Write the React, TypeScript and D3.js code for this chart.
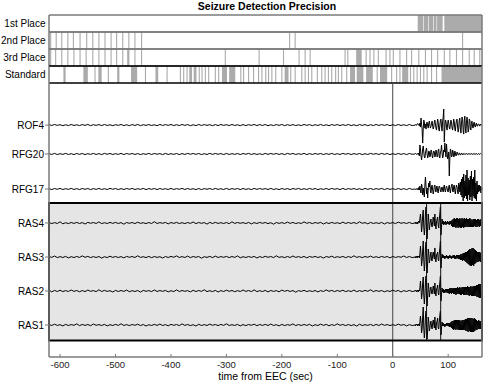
import React from 'react';
import * as d3 from 'd3';

// ---------- data ----------
const title = 'Seizure Detection Precision';
const xLabel = 'time from EEC (sec)';
const xTicks = [-600, -500, -400, -300, -200, -100, 0, 100];
const rankRows = ['1st Place', '2nd Place', '3rd Place', 'Standard'];
const channels = ['ROF4', 'RFG20', 'RFG17', 'RAS4', 'RAS3', 'RAS2', 'RAS1'];
const onsetMarkers = [61, 86.5];

// detection intervals [start, end] in seconds
const firstPlace = [[45, 55], [56, 64], [65, 73], [74, 79], [80, 90], [93, 161]];
const secondPlace = [[-618, -616], [-608, -606], [-598, -596], [-587, -585], [-577, -575], [-565, -563], [-553, -551], [-542, -540], [-531, -529], [-520, -518], [-509, -507], [-499, -497], [-488, -486], [-477, -475], [-466, -464], [-454, -452], [-187, -185], [-177, -175], [125, 127]];
const thirdPlace = [[-618, -616], [-609, -607], [-598, -596], [-587, -585], [-576, -574], [-565, -563], [-554, -552], [-542, -540], [-531, -529], [-520, -518], [-509, -507], [-499, -497], [-488, -486], [-479, -475], [-466, -464], [-454, -452], [-303, -301], [-242, -240], [-198, -196], [-170, -168], [-159, -157], [-150, -148], [-87, -85], [-82, -80], [-66, -56], [-49, -47], [-42, -40], [-35, -33], [-27, -25], [-13, -11], [-6, -4], [0, 2], [12, 14], [24, 26], [33, 35], [46, 48], [58, 60], [69, 71], [80, 82], [92, 94], [102, 104], [114, 116], [125, 127], [137, 139], [146, 148], [156, 158]];
const standard = [[-594, -590], [-558, -550], [-538, -536], [-531, -525], [-514, -512], [-497, -493], [-472, -461], [-447, -445], [-428, -423], [-408, -406], [-384, -382], [-378, -376], [-372, -370], [-367, -362], [-359, -354], [-350, -348], [-345, -343], [-339, -337], [-333, -331], [-321, -319], [-315, -313], [-308, -299], [-295, -284], [-275, -273], [-270, -268], [-261, -259], [-252, -250], [-243, -241], [-237, -235], [-230, -228], [-225, -223], [-219, -217], [-212, -210], [-201, -199], [-195, -188], [-185, -183], [-177, -175], [-165, -163], [-159, -157], [-153, -151], [-147, -145], [-137, -135], [-129, -127], [-123, -121], [-117, -115], [-111, -109], [-104, -102], [-99, -97], [-93, -91], [-84, -82], [-77, -68], [-65, -53], [-48, -36], [-29, -27], [-23, -10], [-3, -1], [6, 8], [12, 14], [17, 28], [31, 33], [37, 39], [43, 45], [49, 51], [55, 57], [61, 63], [69, 71], [78, 80], [88, 161]];

// EEG amplitudes (px-equivalent units). Pre-ictal part sampled every 5 s from -620 s,
// ictal part sampled every 1 s from 40 s.
const rof4Base = [
  0.5,-0.4,0.6,-0.3,0.4,-0.6,0.3,-0.5,0.6,-0.4,0.3,-0.5,
  0.5,-0.3,0.6,-0.6,0.4,-0.3,0.5,-0.5,0.6,-0.4,0.3,-0.6,
  0.4,-0.3,0.6,-0.5,0.3,-0.6,0.5,-0.4,0.6,-0.6,0.4,-0.3,
  0.5,-0.4,0.3,-0.6,0.6,-0.4,0.5,-0.3,0.6,-0.5,0.4,-0.5,
  0.6,-0.3,0.5,-0.6,0.3,-0.5,0.6,-0.4,0.5,-0.3,0.4,-0.6,
  0.5,-0.5,0.6,-0.3,0.4,-0.5,0.6,-0.4,0.3,-0.6,0.5,-0.5,
  0.4,-0.3,0.6,-0.5,0.5,-0.4,0.6,-0.6,0.3,-0.5,0.5,-0.3,
  0.6,-0.6,0.4,-0.4,0.5,-0.5,0.3,-0.5,0.6,-0.3,0.5,-0.6,
  0.4,-0.4,0.6,-0.5,0.3,-0.6,0.5,-0.3,0.5,-0.5,0.4,-0.4,
  0.6,-0.5,0.3,-0.6,0.5,-0.3,0.5,-0.6,0.4,-0.5,0.6,-0.4,
  0.5,-0.3,0.5,-0.6,0.4,-0.5,0.6,-0.4,0.3,-0.5,0.6,-0.5];
const rfg20Base = [
  0.4,-0.5,0.6,-0.6,0.3,-0.4,0.6,-0.5,0.3,-0.6,0.5,-0.4,
  0.5,-0.6,0.3,-0.4,0.6,-0.5,0.4,-0.6,0.6,-0.3,0.5,-0.5,
  0.3,-0.4,0.6,-0.6,0.5,-0.3,0.5,-0.5,0.4,-0.6,0.3,-0.4,
  0.6,-0.5,0.5,-0.3,0.4,-0.6,0.6,-0.5,0.3,-0.4,0.5,-0.6,
  0.4,-0.5,0.6,-0.3,0.5,-0.4,0.5,-0.6,0.3,-0.5,0.6,-0.4,
  0.5,-0.3,0.4,-0.6,0.6,-0.5,0.3,-0.4,0.5,-0.6,0.5,-0.3,
  0.6,-0.5,0.4,-0.5,0.3,-0.6,0.6,-0.4,0.5,-0.3,0.5,-0.5,
  0.4,-0.6,0.6,-0.3,0.5,-0.5,0.3,-0.4,0.6,-0.6,0.4,-0.5,
  0.5,-0.3,0.5,-0.6,0.4,-0.4,0.6,-0.5,0.3,-0.5,0.6,-0.3,
  0.5,-0.6,0.4,-0.4,0.5,-0.6,0.3,-0.5,0.6,-0.3,0.4,-0.5,
  0.6,-0.4,0.5,-0.6,0.3,-0.5,0.5,-0.4,0.4,-0.6,0.5,-0.3];
const rfg17Base = [
  0.4,-0.6,0.5,-0.3,0.6,-0.5,0.3,-0.4,0.6,-0.5,0.4,-0.6,
  0.5,-0.3,0.5,-0.6,0.4,-0.4,0.6,-0.5,0.3,-0.5,0.6,-0.3,
  0.5,-0.6,0.4,-0.5,0.5,-0.3,0.6,-0.5,0.3,-0.4,0.6,-0.6,
  0.4,-0.3,0.5,-0.6,0.5,-0.4,0.3,-0.5,0.6,-0.5,0.4,-0.3,
  0.6,-0.5,0.5,-0.4,0.3,-0.6,0.5,-0.6,0.4,-0.3,0.5,-0.5,
  0.6,-0.4,0.3,-0.5,0.6,-0.5,0.4,-0.3,0.5,-0.6,0.5,-0.4,
  0.3,-0.6,0.6,-0.4,0.5,-0.3,0.4,-0.5,0.6,-0.5,0.3,-0.6,
  0.5,-0.4,0.4,-0.6,0.5,-0.3,0.6,-0.5,0.3,-0.5,0.6,-0.4,
  0.5,-0.6,0.3,-0.4,0.5,-0.5,0.6,-0.3,0.4,-0.6,0.6,-0.5,
  0.4,-0.3,0.5,-0.5,0.3,-0.6,0.6,-0.4,0.5,-0.5,0.4,-0.3,
  0.6,-0.6,0.5,-0.4,0.3,-0.5,0.5,-0.5,0.4,-0.6,0.6,-0.4];
const ras4Base = [
  0.5,-0.6,0.4,-0.5,1.2,-0.8,0.3,-0.6,0.5,-0.4,0.6,-0.5,
  0.4,-1,0.6,-0.3,0.5,-0.5,1.1,-0.6,0.3,-0.5,0.6,-0.4,
  0.6,-0.5,0.4,-1.2,0.5,-0.3,0.5,-0.6,0.8,-0.4,0.3,-0.6,
  0.5,-0.5,1.3,-0.5,0.4,-0.3,0.6,-0.9,0.5,-0.4,0.6,-0.5,
  0.3,-0.6,0.5,-0.4,1,-0.6,0.5,-0.3,0.4,-1.1,0.6,-0.5,
  0.6,-0.4,0.3,-0.5,0.5,-0.7,1.2,-0.4,0.5,-0.3,0.4,-0.6,
  0.6,-0.9,0.4,-0.5,0.6,-0.3,0.5,-0.6,0.3,-1.2,0.5,-0.4,
  0.4,-0.5,0.9,-0.4,0.6,-0.6,0.3,-0.5,1.1,-0.3,0.5,-0.6,
  0.5,-0.3,0.6,-1,0.4,-0.5,0.6,-0.4,0.3,-0.6,0.9,-0.5,
  0.5,-0.4,0.5,-0.6,1.2,-0.3,0.4,-0.8,0.6,-0.5,0.3,-0.5,
  0.6,-1,0.5,-0.4,0.5,-0.6,0.9,-0.3,0.4,-0.5,0.6,-0.6];
const ras3Base = [
  0.5,-0.4,1,-0.6,0.4,-0.5,0.6,-0.9,0.3,-0.5,0.5,-0.4,
  1.1,-0.3,0.6,-0.6,0.4,-0.5,0.5,-1.1,0.3,-0.6,0.8,-0.4,
  0.5,-0.5,0.4,-0.9,0.6,-0.3,0.5,-0.5,1.2,-0.4,0.3,-0.6,
  0.6,-0.7,0.5,-0.4,0.3,-1,0.5,-0.5,0.6,-0.3,1.1,-0.5,
  0.4,-0.5,0.9,-0.6,0.5,-0.3,0.5,-1.2,0.3,-0.4,0.6,-0.6,
  0.9,-0.5,0.4,-0.3,0.6,-0.6,0.5,-0.4,1.1,-0.8,0.3,-0.5,
  0.5,-0.4,0.6,-1,0.4,-0.5,0.7,-0.3,0.5,-0.6,1.2,-0.4,
  0.3,-0.6,0.5,-0.5,1,-0.4,0.4,-0.5,0.6,-0.9,0.5,-0.3,
  0.6,-0.5,0.4,-1.1,0.5,-0.3,0.8,-0.6,0.3,-0.4,0.6,-0.7,
  0.5,-0.5,1.2,-0.4,0.4,-0.6,0.5,-0.3,0.9,-0.5,0.3,-0.6,
  0.6,-0.4,0.5,-0.9,0.6,-0.5,0.4,-0.3,1,-0.5,0.5,-0.6];
const ras2Base = [
  1.1,-0.9,0.6,-0.5,0.8,-0.6,0.4,-0.5,1,-0.4,0.5,-0.8,
  0.5,-0.6,0.9,-0.3,0.4,-0.6,1.2,-0.5,0.6,-0.4,0.3,-1,
  0.6,-0.5,0.5,-0.4,0.9,-0.7,0.3,-0.5,0.5,-1.1,0.6,-0.3,
  0.4,-0.6,1,-0.5,0.5,-0.4,0.6,-0.9,0.3,-0.6,1.1,-0.5,
  0.5,-0.3,0.4,-0.9,0.7,-0.5,0.5,-0.4,1.2,-0.6,0.3,-0.6,
  0.6,-1,0.4,-0.5,0.8,-0.3,0.5,-0.7,0.4,-0.5,1,-0.4,
  0.5,-0.6,1.1,-0.6,0.3,-0.5,0.6,-0.9,0.5,-0.4,0.4,-0.8,
  0.9,-0.3,0.6,-0.5,0.5,-1.2,0.4,-0.4,0.7,-0.6,0.3,-0.5,
  0.5,-0.9,0.4,-0.5,1.1,-0.3,0.6,-0.6,0.5,-0.4,0.8,-0.6,
  0.3,-0.5,0.9,-0.7,0.4,-0.5,0.6,-0.3,1.2,-0.6,0.5,-0.4,
  0.5,-0.8,0.3,-0.5,0.9,-0.4,0.6,-1,0.4,-0.5,0.6,-0.5];
const ras1Base = [
  0.5,-0.5,0.8,-0.4,0.3,-0.9,0.6,-0.5,0.4,-0.3,1.1,-0.6,
  0.5,-0.4,0.5,-0.7,1,-0.3,0.4,-0.5,0.6,-0.9,0.3,-0.5,
  0.6,-0.4,1.2,-0.5,0.4,-0.6,0.5,-0.3,0.8,-0.6,0.5,-1,
  0.3,-0.5,0.6,-0.4,0.9,-0.5,0.4,-0.8,0.6,-0.3,0.5,-0.6,
  1.1,-0.4,0.5,-0.6,0.3,-1,0.7,-0.5,0.4,-0.5,0.9,-0.3,
  0.5,-0.6,0.6,-0.4,1.2,-0.5,0.3,-0.5,0.6,-0.9,0.4,-0.6,
  0.5,-0.3,0.8,-0.7,0.5,-0.4,0.6,-0.5,1,-0.5,0.3,-0.9,
  0.6,-0.6,0.4,-0.3,1.1,-0.6,0.5,-0.5,0.5,-0.4,0.7,-1,
  0.3,-0.5,0.9,-0.4,0.6,-0.8,0.4,-0.5,1.2,-0.3,0.5,-0.6,
  0.5,-0.6,0.4,-1.1,0.8,-0.5,0.3,-0.4,0.6,-0.7,0.6,-0.5,
  1,-0.4,0.5,-0.6,0.4,-0.5,0.9,-0.3,0.5,-0.9,0.4,-0.5];

const rof4Ictal = [
  0,0.5,-0.5,0,1,1.5,0.5,1,-1,2,
  -2,7,1,-4,-18,-4,5,3,-3,1,
  -4,2,3,-1,-3,2,4,0,-3,-1,
  2,4,-1,-4,-2,3,5,1,-3,-5,
  1,6,3,-4,-6,0,5,6,-2,-6,
  4,8,16,-17,-3,5,4,-2,-5,1,
  5,2,-3,-4,1,5,3,-3,-5,0,
  6,3,-4,-6,1,5,6,-2,-7,-3,
  5,7,-4,-8,2,8,6,-6,-9,4,
  9,-3,-8,3,8,2,-7,-4,6,5,
  -4,-5,3,4,-2,-3,2,3,-1,-2,
  1,2,-1,-1,1,1,0,-1,1,0,
  0,0];
const rfg20Ictal = [
  0,0.5,0,-0.5,0.5,0,-0.5,1,-2,9,
  5,-2,-6,-1,5,8,2,-3,-4,1,
  4,6,0,-4,-2,3,2,-3,-1,4,
  3,-2,-4,1,3,2,-3,-1,4,2,
  -3,-2,4,5,-3,-4,2,3,9,1,
  -4,-2,4,2,11,3,-3,10,2,-5,
  -3,2,-22,-4,5,3,-3,-2,4,2,
  -3,-2,3,1,-2,-1,2,1,-1,-1,
  1,0.5,-1,-0.5,1,0,-1,0.5,0,-0.5,
  0.5,0,-0.5,0.5,0,-0.5,0.5,0,-0.5,0.5,
  0,-0.5,0.5,0,-0.5,0.5,0,-0.5,0.5,0,
  -0.5,0.5,0,-0.5,0,0.5,-0.5,0,0.5,0,
  -0.5,0];
const rfg17Ictal = [
  0,-0.5,0.5,0,-0.5,0.5,-1,1.5,-1,3,
  -2,-4,5,2,-6,1,-4,-8,4,12,
  3,-5,1,-9,0,6,2,8,-2,-4,
  2,4,-1,-5,-2,3,4,-1,-3,2,
  3,-2,-4,1,3,2,-2,-3,1,2,
  -1,-3,2,4,-1,-3,1,3,1,-2,
  -3,2,4,-1,-4,1,3,5,-2,-3,
  3,4,-2,-5,1,4,2,-3,-5,6,
  4,-3,7,-6,10,-8,12,-12,15,-9,
  8,-7,14,-10,19,-12,11,-6,9,-11,
  13,-8,18,-12,10,-7,12,-9,19,-10,
  6,-12,8,-5,4,-3,4,-2,3,-4,
  2,-1];
const ras4Ictal = [
  0,1,-1,0,1,-1,1,2,0,4,
  9,2,-9,-3,8,13,-4,-12,-5,10,
  16,-6,-16,-4,9,3,-7,-2,2,4,
  -2,-4,1,6,2,-3,9,-2,-6,1,
  4,6,-2,-5,3,10,16,-12,-3,4,
  -1,2,-2,1,-1,2,-2,1,-1,2,
  -1,1,-2,2,-1,2,-3,3,-4,4,
  -4,5,-4,4,-5,5,-4,5,-5,4,
  -4,5,-5,4,-5,5,-4,4,-5,5,
  -4,4,-4,5,-4,4,-4,4,-4,5,
  -4,4,-4,3,-4,4,-4,4,-3,4,
  -4,3,-4,4,-3,4,-4,3,-3,4,
  -3,3];
const ras3Ictal = [
  0,-1,1,0,-1,1,0,1,-1,3,
  11,3,-9,-4,7,16,-3,-14,-6,9,
  15,-5,-16,-5,8,4,-6,-3,2,5,
  -3,-4,2,5,1,-2,9,-3,-5,2,
  3,5,-3,-4,4,9,16,-11,-2,3,
  -1,2,-1,1,-2,1,-1,2,-1,1,
  -2,1,-1,2,-1,1,-2,1,-1,2,
  -1,2,-2,1,-2,2,-1,2,-2,2,
  -2,2,-3,3,-3,3,-4,4,-3,4,
  -4,5,-5,5,-6,6,-7,7,-8,8,
  -9,8,-9,9,-8,9,-9,8,-7,7,
  -6,6,-5,5,-5,5,-4,5,-5,4,
  -4,4];
const ras2Ictal = [
  0,1,0,-1,1,0,-1,1,0,3,
  10,2,-8,-3,8,14,-4,-13,-5,9,
  15,-6,-15,-4,8,3,-6,-2,3,4,
  -2,-3,1,5,2,-3,8,-2,-5,2,
  3,6,-2,-4,3,9,15,-10,-3,3,
  -1,2,-2,1,-2,2,-1,2,-2,2,
  -2,2,-3,3,-2,3,-3,3,-2,3,
  -3,3,-3,3,-4,3,-3,4,-3,3,
  -3,4,-4,3,-4,4,-3,4,-4,4,
  -4,4,-4,4,-4,5,-4,4,-5,4,
  -4,5,-5,4,-5,5,-5,5,-5,5,
  -5,6,-6,6,-6,7,-7,7,-7,7,
  -6,6];
const ras1Ictal = [
  0,-1,1,0,1,-1,0,1,-1,3,
  9,3,-8,-4,9,18,-3,-13,-6,8,
  14,-5,-14,-5,8,3,-6,-3,2,4,
  -2,-4,2,5,1,-3,8,-2,-5,2,
  4,7,-3,-4,3,10,14,-10,-3,3,
  -1,2,-1,1,-2,1,-1,2,-1,2,
  -1,2,-2,2,-2,3,-3,4,-4,4,
  -5,5,-4,5,-5,5,-4,5,-5,5,
  -5,5,-5,4,-5,5,-5,5,-5,5,
  -5,6,-6,6,-6,7,-7,7,-6,7,
  -7,7,-7,7,-7,6,-7,7,-6,6,
  -5,5,-5,4,-4,5,-4,4,-4,4,
  -4,4];

const baseSeries = [rof4Base, rfg20Base, rfg17Base, ras4Base, ras3Base, ras2Base, ras1Base];
const ictalSeries = [rof4Ictal, rfg20Ictal, rfg17Ictal, ras4Ictal, ras3Ictal, ras2Ictal, ras1Ictal];
const baseTimes = d3.range(-620, 40, 5);
const ictalTimes = d3.range(40, 162, 1);

// ---------- component ----------
export default function App() {
  const W = 488, H = 384;
  const left = 49, right = 482;
  const font = 'Liberation Sans, Arial, Helvetica, sans-serif';
  const x = d3.scaleLinear().domain([-620, 161]).range([left, right]);

  // top detection rows
  const rowTop = 15, rowH = 17;
  const rowY = d3.scaleBand().domain(rankRows).range([rowTop, rowTop + rowH * rankRows.length]).padding(0);
  const rowEvents = [firstPlace, secondPlace, thirdPlace, standard];

  // EEG panel
  const plotTop = rowTop + rowH * rankRows.length;
  const axisY = 357;
  const chanOffsets = [6.88, 6.03, 5, 4, 3, 2, 1];
  const yOff = d3.scaleLinear().domain([0, 1]).range([359, 325]);
  const amp = d3.scaleLinear().domain([0, 1]).range([0, -1]);
  const boxTop = 203, boxBottom = 340.5;

  const line = d3.line<[number, number]>().x(d => x(d[0])).y(d => d[1]);

  const paths = channels.map((c, i) => {
    const y0 = yOff(chanOffsets[i]);
    const pts: [number, number][] = [];
    baseSeries[i].forEach((v, k) => pts.push([baseTimes[k], y0 + amp(v)]));
    ictalSeries[i].forEach((v, k) => pts.push([ictalTimes[k], y0 + amp(v)]));
    return { c, y0, d: line(pts) || '' };
  });

  const frame = '#7a7a7a';

  return (
    <svg width={W} height={H} style={{ position: 'absolute', left: 0, top: 0, display: 'block', background: '#fff' }} fontFamily={font}>
      <text x={267} y={10} textAnchor="middle" fontSize={10.5} fontWeight="bold" fill="#000">{title}</text>

      {rankRows.map((r, i) => {
        const y = rowY(r)!;
        return (
          <g key={r}>
            <rect x={left} y={y} width={right - left} height={rowH} fill="#fff" />
            {rowEvents[i].map((ev, k) => (
              <rect key={k} x={x(ev[0])} y={y} width={Math.max(0.8, x(ev[1]) - x(ev[0]))} height={rowH} fill="#ababab" />
            ))}
            <text x={45.5} y={y + rowH / 2 + 3.6} textAnchor="end" fontSize={10} fill="#000">{r}</text>
          </g>
        );
      })}
      {rankRows.map((r, i) => {
        const y = rowY(r)!;
        const col = i === rankRows.length - 1 ? '#000' : frame;
        return (
          <g key={'b' + r}>
            <line x1={left} x2={right} y1={y} y2={y} stroke={col} strokeWidth={1.5} />
            <line x1={left} x2={right} y1={y + rowH} y2={y + rowH} stroke={col} strokeWidth={1.5} />
            <line x1={left} x2={left} y1={y} y2={y + rowH} stroke={frame} strokeWidth={1.5} />
            <line x1={right} x2={right} y1={y} y2={y + rowH} stroke={frame} strokeWidth={1.5} />
          </g>
        );
      })}

      {/* EEG panel */}
      <rect x={left} y={boxTop} width={right - left} height={boxBottom - boxTop} fill="#e5e5e5" />
      <line x1={x(0)} x2={x(0)} y1={plotTop} y2={axisY} stroke="#444" strokeWidth={1} />
      {paths.map(p => (
        <path key={p.c} d={p.d} fill="none" stroke="#000" strokeWidth={1} strokeLinejoin="round" />
      ))}
      {onsetMarkers.map(t => (
        <line key={t} x1={x(t)} x2={x(t)} y1={boxTop} y2={boxBottom} stroke="#111" strokeWidth={1} />
      ))}
      <rect x={left} y={boxTop} width={right - left} height={boxBottom - boxTop} fill="none" stroke="#000" strokeWidth={2} />

      {/* frame */}
      <line x1={left} x2={left} y1={plotTop} y2={axisY} stroke={frame} strokeWidth={1.5} />
      <line x1={right} x2={right} y1={plotTop} y2={axisY} stroke={frame} strokeWidth={1.5} />
      <line x1={left} x2={right} y1={axisY} y2={axisY} stroke={frame} strokeWidth={1.5} />

      {/* y ticks + channel labels */}
      {paths.map(p => (
        <g key={'l' + p.c}>
          <line x1={left - 4} x2={left} y1={p.y0} y2={p.y0} stroke={frame} strokeWidth={1} />
          <text x={44} y={p.y0 + 3.6} textAnchor="end" fontSize={10} fill="#000">{p.c}</text>
        </g>
      ))}

      {/* x axis */}
      {xTicks.map(t => (
        <g key={'t' + t}>
          <line x1={x(t)} x2={x(t)} y1={axisY} y2={axisY - 3} stroke={frame} strokeWidth={1} />
          <text x={x(t)} y={368} textAnchor="middle" fontSize={9.5} fill="#222">{t}</text>
        </g>
      ))}
      <text x={265.5} y={379.5} textAnchor="middle" fontSize={10.5} fill="#000">{xLabel}</text>
    </svg>
  );
}
